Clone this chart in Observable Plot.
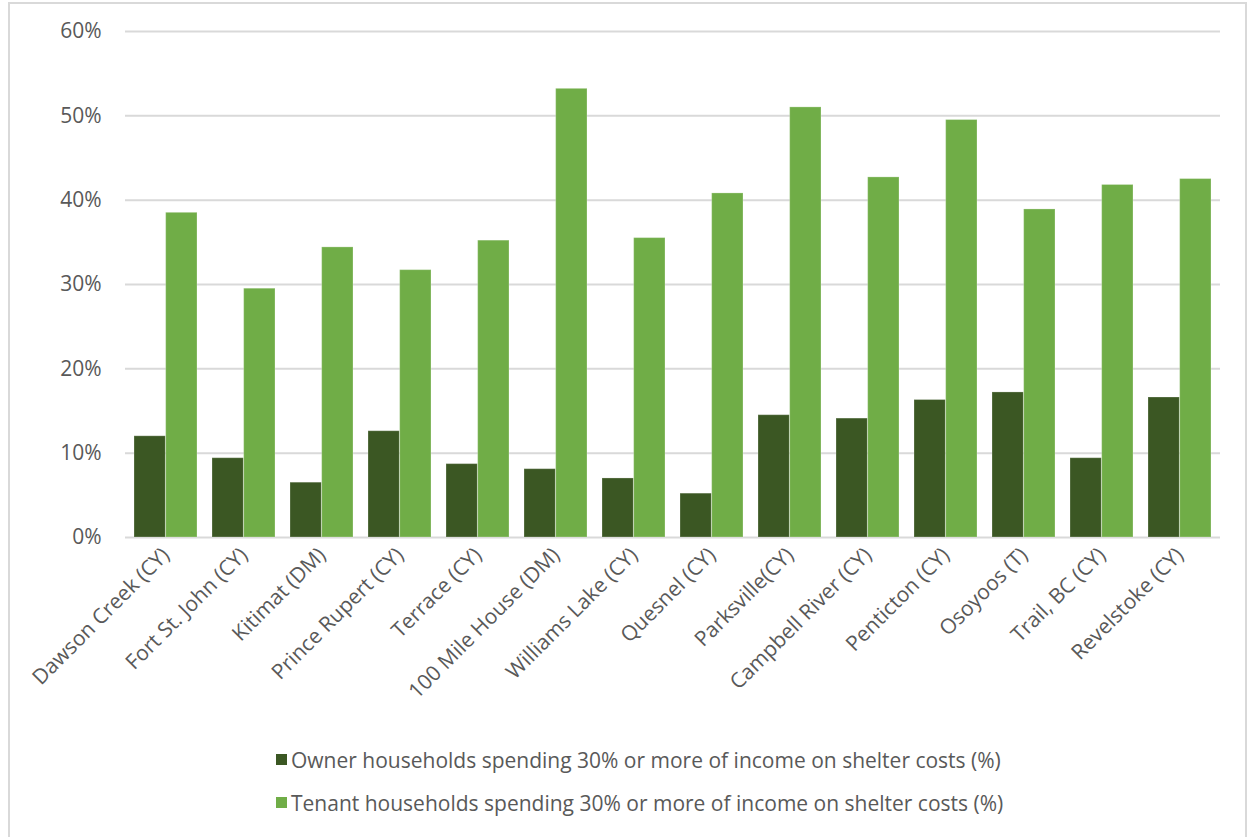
<!DOCTYPE html>
<html>
<head>
<meta charset="utf-8">
<script src="https://cdn.jsdelivr.net/npm/d3@7"></script>
<script src="https://cdn.jsdelivr.net/npm/@observablehq/plot@0.6"></script>
<style>
  html, body { margin: 0; padding: 0; background: #fff; }
  body { width: 1250px; height: 837px; position: relative; overflow: hidden; font-family: "Open Sans", Lato, sans-serif; }
  #frame { position: absolute; left: 8px; top: 2px; width: 1239px; height: 840px; border: 2px solid #d9d9d9; box-sizing: border-box; }
  #chart { position: absolute; left: 0; top: 0; }
  #legend { position: absolute; left: 276px; top: 738px; font-size: 21px; color: #595959; }
  .li { display: flex; align-items: center; height: 43px; }
  .sw { width: 11px; height: 11px; margin-right: 4px; }
</style>
</head>
<body>
<div id="frame"></div>
<div id="chart"></div>
<div id="legend"></div>
<script>
const cities = ["Dawson Creek (CY)", "Fort St. John (CY)", "Kitimat (DM)", "Prince Rupert (CY)", "Terrace (CY)", "100 Mile House (DM)", "Williams Lake (CY)", "Quesnel (CY)", "Parksville(CY)", "Campbell River (CY)", "Penticton (CY)", "Osoyoos (T)", "Trail, BC (CY)", "Revelstoke (CY)"];
const ownerValues = [12.0, 9.4, 6.5, 12.6, 8.7, 8.1, 7.0, 5.2, 14.5, 14.1, 16.3, 17.2, 9.4, 16.6];
const tenantValues = [38.5, 29.5, 34.4, 31.7, 35.2, 53.2, 35.5, 40.8, 51.0, 42.7, 49.5, 38.9, 41.8, 42.5];
const yTicks = [0, 10, 20, 30, 40, 50, 60];
const seriesNames = ["Owner households spending 30% or more of income on shelter costs (%)", "Tenant households spending 30% or more of income on shelter costs (%)"];
const seriesColors = ["#3b5723", "#70ad47"];

const owner = cities.map((c, i) => ({city: c, value: ownerValues[i]}));
const tenant = cities.map((c, i) => ({city: c, value: tenantValues[i]}));

const W = 1250, ML = 125, MR = 30, PAD = 0.19;
const half = (W - ML - MR) / cities.length * (1 - PAD) / 2;

const chart = Plot.plot({
  width: W,
  height: 720,
  marginLeft: ML,
  marginRight: MR,
  marginTop: 31,
  marginBottom: 183,
  style: {fontFamily: "'Open Sans', Lato, sans-serif", fontSize: "21px", color: "#595959", background: "transparent"},
  x: {domain: cities, paddingInner: PAD, paddingOuter: PAD / 2, label: null},
  y: {domain: [0, 60], label: null},
  marks: [
    Plot.ruleY(yTicks, {stroke: "#d9d9d9", strokeWidth: 2}),
    Plot.barY(owner, {x: "city", y: "value", fill: seriesColors[0], insetRight: half, stroke: "#ffffff", strokeOpacity: 0.25}),
    Plot.barY(tenant, {x: "city", y: "value", fill: seriesColors[1], insetLeft: half, stroke: "#ffffff", strokeOpacity: 0.25}),
    Plot.axisY({ticks: yTicks, tickFormat: d => d + "%", tickSize: 0, tickPadding: 24, fill: "#595959", fontSize: 21}),
    Plot.axisX({tickRotate: -45, tickSize: 0, tickPadding: 14, fill: "#595959", fontSize: 21})
  ]
});
document.getElementById("chart").appendChild(chart);

const legend = document.getElementById("legend");
seriesNames.forEach((n, i) => {
  const d = document.createElement("div");
  d.className = "li";
  d.innerHTML = `<span class="sw" style="background:${seriesColors[i]}"></span><span>${n}</span>`;
  legend.appendChild(d);
});
</script>
</body>
</html>
